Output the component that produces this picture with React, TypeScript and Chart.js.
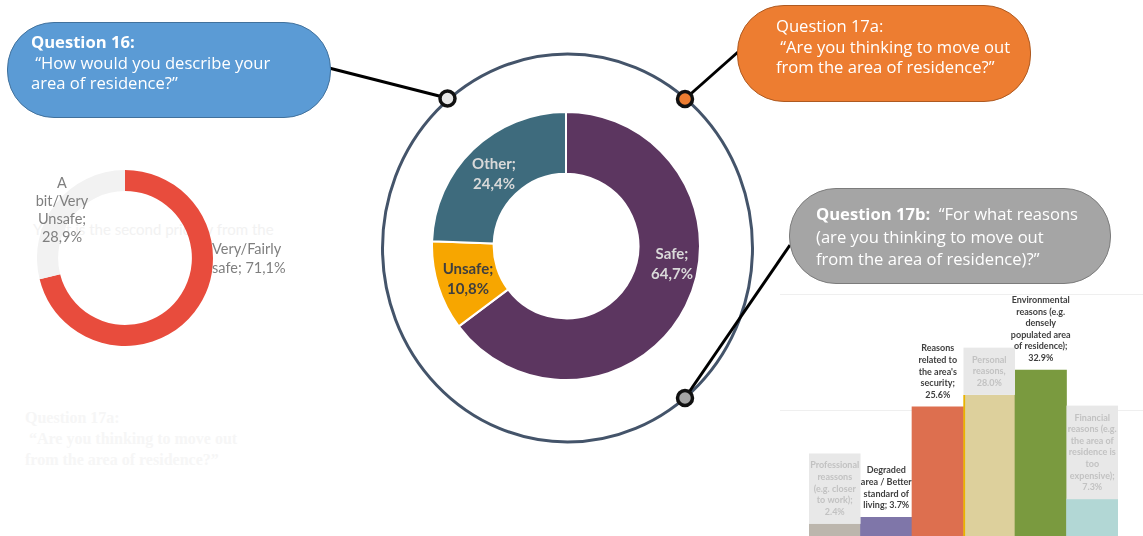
import React, { useEffect, useRef } from "react";
import { Chart, registerables } from "chart.js";

Chart.register(...registerables);

// ---- Data ----
const residenceLabels = ["Very/Fairly safe", "A bit/Very Unsafe"];
const residenceValues = [71.1, 28.9];
const residenceColors = ["#e84c3d", "#f2f2f2"];

const areaLabels = ["Safe", "Unsafe", "Other"];
const areaValues = [64.7, 10.8, 24.4];
const areaColors = ["#5c3660", "#f7a600", "#3e6b7d"];

const reasonCategories = [
  "Professional reassons (e.g. closer to work)",
  "Degraded area / Better standard of living",
  "Reasons related to the area's security",
  "Personal reasons",
  "Environmental reasons (e.g. densely populated area of residence)",
  "Financial reasons (e.g. the area of residence is too expensive)",
];
const reasonValues = [2.4, 3.7, 25.6, 28.0, 32.9, 7.3];
const reasonColors = ["#bcb6ad", "#7f76a9", "#dd6f4f", "#ddd09c", "#7a9a3f", "#b2d7d5"];
const reasonLabelLines = [
  ["Professional", "reassons", "(e.g. closer", "to work);", "2.4%"],
  ["Degraded", "area / Better", "standard of", "living; 3.7%"],
  ["Reasons", "related to", "the area's", "security;", "25.6%"],
  ["Personal", "reasons,", "28.0%"],
  ["Environmental", "reasons (e.g.", "densely", "populated area", "of residence);", "32.9%"],
  ["Financial", "reasons (e.g.", "the area of", "residence is", "too", "expensive);", "7.3%"],
];
const reasonLabelMuted = [true, false, false, true, false, true];
const reasonGridValues = [25, 48];

// ---- Plugins ----
const barLabelPlugin = {
  id: "barLabels",
  afterDatasetsDraw(chart: any) {
    const ctx = chart.ctx;
    const meta = chart.getDatasetMeta(0);
    const lh = 11.6;
    ctx.save();
    ctx.font = "bold 9px Lato";
    ctx.textAlign = "center";
    ctx.textBaseline = "middle";
    meta.data.forEach((bar: any, i: number) => {
      const { x, y, width } = bar.getProps(["x", "y", "width"], true);
      const lines = reasonLabelLines[i];
      const lastY = y - 12;
      const firstY = lastY - (lines.length - 1) * lh;
      if (reasonLabelMuted[i]) {
        ctx.fillStyle = "#e8e8e8";
        const top = firstY - 12;
        ctx.fillRect(x - width / 2, top, width, y - top);
        ctx.fillStyle = "#c2c2c2";
      } else {
        ctx.fillStyle = "#3f3f3f";
      }
      lines.forEach((l: string, j: number) => ctx.fillText(l, x, firstY + j * lh));
    });
    ctx.restore();
  },
};

const fullGridPlugin = {
  id: "fullGrid",
  beforeDatasetsDraw(chart: any) {
    const ctx = chart.ctx;
    const yScale = chart.scales.y;
    ctx.save();
    ctx.strokeStyle = "#efefef";
    ctx.lineWidth = 1;
    reasonGridValues.forEach((v) => {
      const y = Math.round(yScale.getPixelForValue(v)) + 0.5;
      ctx.beginPath();
      ctx.moveTo(0, y);
      ctx.lineTo(chart.width, y);
      ctx.stroke();
    });
    ctx.restore();
  },
};

function useChart(ref: React.RefObject<HTMLCanvasElement>, make: (c: HTMLCanvasElement) => Chart) {
  useEffect(() => {
    if (!ref.current) return;
    const ch = make(ref.current);
    return () => ch.destroy();
  }, []);
}

export default function App() {
  const leftRef = useRef<HTMLCanvasElement>(null);
  const centerRef = useRef<HTMLCanvasElement>(null);
  const barRef = useRef<HTMLCanvasElement>(null);

  useEffect(() => {
    document.body.style.margin = "0";
  }, []);

  useChart(leftRef, (c) =>
    new Chart(c, {
      type: "doughnut",
      data: {
        labels: residenceLabels,
        datasets: [{ data: residenceValues, backgroundColor: residenceColors, borderWidth: 0 }],
      },
      options: {
        responsive: false,
        animation: false,
        cutout: "76%",
        plugins: { legend: { display: false }, tooltip: { enabled: false } },
      },
    })
  );

  useChart(centerRef, (c) =>
    new Chart(c, {
      type: "doughnut",
      data: {
        labels: areaLabels,
        datasets: [
          { data: areaValues, backgroundColor: areaColors, borderColor: "#ffffff", borderWidth: 2 },
        ],
      },
      options: {
        responsive: false,
        animation: false,
        cutout: "54%",
        plugins: { legend: { display: false }, tooltip: { enabled: false } },
      },
    })
  );

  useChart(barRef, (c) =>
    new Chart(c, {
      type: "bar",
      data: {
        labels: reasonCategories,
        datasets: [
          {
            data: reasonValues,
            backgroundColor: reasonColors,
            borderColor: reasonColors.map((col, i) => (i === 3 ? "#e9b200" : col)),
            borderWidth: reasonColors.map((_, i) =>
              i === 3 ? { left: 2, top: 0, right: 0, bottom: 0 } : 0
            ) as any,
            borderSkipped: false,
            categoryPercentage: 1,
            barPercentage: 1,
          },
        ],
      },
      options: {
        responsive: false,
        animation: false,
        layout: { padding: { left: 29, right: 25, top: 4, bottom: 0 } },
        scales: {
          x: { display: false },
          y: { display: false, min: 0, max: 48 },
        },
        plugins: { legend: { display: false }, tooltip: { enabled: false } },
      },
      plugins: [fullGridPlugin, barLabelPlugin],
    })
  );

  const pillText: React.CSSProperties = {
    position: "absolute",
    color: "#ffffff",
    fontFamily: "'Open Sans', sans-serif",
    fontSize: 16.6,
    lineHeight: "20.5px",
    whiteSpace: "pre",
  };
  const abs = (x: number, y: number, extra: React.CSSProperties = {}): React.CSSProperties => ({
    position: "absolute",
    left: x,
    top: y,
    whiteSpace: "pre",
    ...extra,
  });

  return (
    <div
      style={{
        position: "fixed",
        left: 0,
        top: 0,
        width: 1143,
        height: 536,
        background: "#ffffff",
        overflow: "hidden",
        fontFamily: "Lato, sans-serif",
      }}
    >
      {/* faded background texts */}
      <div style={abs(33, 220, { fontSize: 15, color: "#f2f2f2", fontFamily: "Lato, sans-serif" })}>
        {"Yes, it is the second priority from the"}
      </div>
      <div
        style={abs(25, 407, {
          fontFamily: "'Liberation Serif', serif",
          fontWeight: "bold",
          fontSize: 16,
          lineHeight: "21px",
          color: "#f6f6f6",
        })}
      >
        {"Question 17a:\n “Are you thinking to move out\nfrom the area of residence?”"}
      </div>

      {/* left donut */}
      <canvas ref={leftRef} width={176} height={176} style={{ position: "absolute", left: 37, top: 170 }} />
      <div
        style={abs(22, 174, {
          width: 80,
          textAlign: "center",
          fontSize: 14.5,
          lineHeight: "18px",
          color: "#7f7f7f",
        })}
      >
        {"A\nbit/Very\nUnsafe;\n28,9%"}
      </div>
      <div style={abs(212, 240, { fontSize: 14.5, lineHeight: "18.5px", color: "#7f7f7f" })}>
        {"Very/Fairly\nsafe; 71,1%"}
      </div>

      {/* ellipse and connector lines */}
      <svg width={1143} height={536} style={{ position: "absolute", left: 0, top: 0 }}>
        <ellipse cx={567.5} cy={248} rx={185} ry={194} fill="none" stroke="#44546a" strokeWidth={3} />
        <line x1={329} y1={68} x2={447} y2={98} stroke="#000" strokeWidth={3} />
        <line x1={738} y1={52} x2={685} y2={99} stroke="#000" strokeWidth={3} />
        <line x1={790} y1={245} x2={685} y2={398} stroke="#000" strokeWidth={3} />
      </svg>

      {/* center donut */}
      <canvas ref={centerRef} width={270} height={270} style={{ position: "absolute", left: 431, top: 111 }} />
      <div
        style={abs(630, 243, {
          width: 84,
          textAlign: "center",
          fontWeight: "bold",
          fontSize: 15,
          lineHeight: "20px",
          color: "#d9d9d9",
        })}
      >
        {"Safe;\n64,7%"}
      </div>
      <div
        style={abs(452, 153, {
          width: 84,
          textAlign: "center",
          fontWeight: "bold",
          fontSize: 15,
          lineHeight: "20px",
          color: "#d9d9d9",
        })}
      >
        {"Other;\n24,4%"}
      </div>
      <div
        style={abs(426, 258, {
          width: 84,
          textAlign: "center",
          fontWeight: "bold",
          fontSize: 15,
          lineHeight: "20px",
          color: "#3f3f3f",
        })}
      >
        {"Unsafe;\n10,8%"}
      </div>

      {/* bar chart */}
      <canvas ref={barRef} width={363} height={246} style={{ position: "absolute", left: 780, top: 290 }} />

      {/* callouts */}
      <div
        style={{
          position: "absolute",
          left: 7,
          top: 22,
          width: 322,
          height: 94,
          borderRadius: 47,
          background: "#5b9bd5",
          border: "1px solid #41719c",
        }}
      />
      <div style={{ ...pillText, left: 31, top: 32 }}>
        <b>Question 16:</b>
        {"\n “How would you describe your\narea of residence?”"}
      </div>

      <div
        style={{
          position: "absolute",
          left: 737,
          top: 5,
          width: 292,
          height: 95,
          borderRadius: 47,
          background: "#ed7d31",
          border: "1px solid #ae5a21",
        }}
      />
      <div style={{ ...pillText, left: 776, top: 16 }}>
        {"Question 17a:\n “Are you thinking to move out\nfrom the area of residence?”"}
      </div>

      <div
        style={{
          position: "absolute",
          left: 789,
          top: 188,
          width: 320,
          height: 94,
          borderRadius: 47,
          background: "#a5a5a5",
          border: "1px solid #7c7c7c",
        }}
      />
      <div style={{ ...pillText, left: 816, top: 203, lineHeight: "22.7px" }}>
        <b>Question 17b:</b>
        {"  “For what reasons\n(are you thinking to move out\nfrom the area of residence)?”"}
      </div>

      <svg width={1143} height={536} style={{ position: "absolute", left: 0, top: 0, pointerEvents: "none" }}>
        <circle cx={447.5} cy={98.5} r={7.5} fill="#e7e7e7" stroke="#111" strokeWidth={3.5} />
        <circle cx={685} cy={99} r={7.5} fill="#ed7d31" stroke="#111" strokeWidth={3.5} />
        <circle cx={685} cy={398} r={7.5} fill="#a5a5a5" stroke="#111" strokeWidth={3.5} />
      </svg>
    </div>
  );
}
